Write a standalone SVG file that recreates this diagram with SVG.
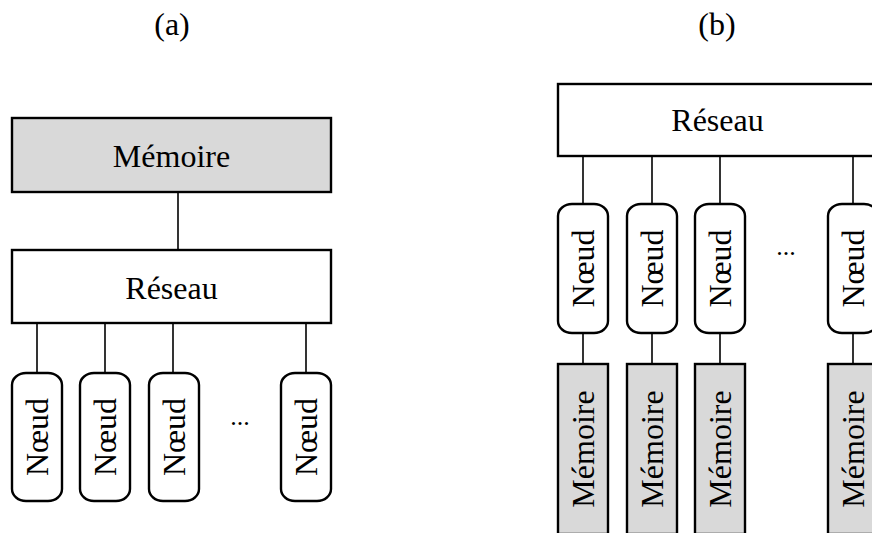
<svg xmlns="http://www.w3.org/2000/svg" width="872" height="533" viewBox="0 0 872 533">
<style>
text{font-family:"Liberation Serif","Times New Roman",serif;font-size:32px;fill:#000;text-anchor:middle}
.box{fill:#fff;stroke:#000;stroke-width:2.4}
.mem{fill:#d9d9d9;stroke:#000;stroke-width:2.4}
.node{fill:#fff;stroke:#000;stroke-width:2.4}
.dots{font-size:26px}
#connectors line{stroke:#000;stroke-width:1.6}
</style>
<rect width="872" height="533" fill="#fff"/>
<text x="172" y="35">(a)</text>
<text x="717" y="35">(b)</text>
<g id="connectors">
<line x1="178" y1="193" x2="178" y2="250"/>
<line x1="37" y1="323" x2="37" y2="373"/>
<line x1="105" y1="323" x2="105" y2="373"/>
<line x1="173" y1="323" x2="173" y2="373"/>
<line x1="306" y1="323" x2="306" y2="373"/>
<line x1="583" y1="156" x2="583" y2="204"/>
<line x1="652" y1="156" x2="652" y2="204"/>
<line x1="720" y1="156" x2="720" y2="204"/>
<line x1="853" y1="156" x2="853" y2="204"/>
<line x1="583" y1="333" x2="583" y2="364"/>
<line x1="652" y1="333" x2="652" y2="364"/>
<line x1="720" y1="333" x2="720" y2="364"/>
<line x1="853" y1="333" x2="853" y2="364"/>
</g>
<g id="a-memoire"><rect class="mem" x="12" y="118" width="319" height="74"/><text x="171.5" y="167">Mémoire</text></g>
<g id="a-reseau"><rect class="box" x="12" y="250" width="319" height="73"/><text x="171.5" y="299">Réseau</text></g>
<g id="a-noeud1"><rect class="node" x="12" y="373" width="50" height="128" rx="14" ry="12"/><text transform="translate(37,437) rotate(-90)" y="11">Nœud</text></g>
<g id="a-noeud2"><rect class="node" x="80" y="373" width="50" height="128" rx="14" ry="12"/><text transform="translate(105,437) rotate(-90)" y="11">Nœud</text></g>
<g id="a-noeud3"><rect class="node" x="149" y="373" width="50" height="128" rx="14" ry="12"/><text transform="translate(174,437) rotate(-90)" y="11">Nœud</text></g>
<g id="a-dots"><text class="dots" x="240" y="424.5">...</text></g>
<g id="a-noeud4"><rect class="node" x="281" y="373" width="50" height="128" rx="14" ry="12"/><text transform="translate(306,437) rotate(-90)" y="11">Nœud</text></g>
<g id="b-reseau"><rect class="box" x="558" y="84" width="319" height="72"/><text x="717.5" y="131">Réseau</text></g>
<g id="b-noeud1"><rect class="node" x="558" y="204" width="50" height="129" rx="14" ry="12"/><text transform="translate(583,268.5) rotate(-90)" y="11">Nœud</text></g>
<g id="b-noeud2"><rect class="node" x="627" y="204" width="50" height="129" rx="14" ry="12"/><text transform="translate(652,268.5) rotate(-90)" y="11">Nœud</text></g>
<g id="b-noeud3"><rect class="node" x="695" y="204" width="50" height="129" rx="14" ry="12"/><text transform="translate(720,268.5) rotate(-90)" y="11">Nœud</text></g>
<g id="b-dots"><text class="dots" x="786" y="254.5">...</text></g>
<g id="b-noeud4"><rect class="node" x="828" y="204" width="50" height="129" rx="14" ry="12"/><text transform="translate(853,268.5) rotate(-90)" y="11">Nœud</text></g>
<g id="b-memoire1"><rect class="mem" x="558" y="364" width="50" height="170"/><text transform="translate(583,449) rotate(-90)" y="11">Mémoire</text></g>
<g id="b-memoire2"><rect class="mem" x="627" y="364" width="50" height="170"/><text transform="translate(652,449) rotate(-90)" y="11">Mémoire</text></g>
<g id="b-memoire3"><rect class="mem" x="695" y="364" width="50" height="170"/><text transform="translate(720,449) rotate(-90)" y="11">Mémoire</text></g>
<g id="b-memoire4"><rect class="mem" x="828" y="364" width="50" height="170"/><text transform="translate(853,449) rotate(-90)" y="11">Mémoire</text></g>
</svg>
